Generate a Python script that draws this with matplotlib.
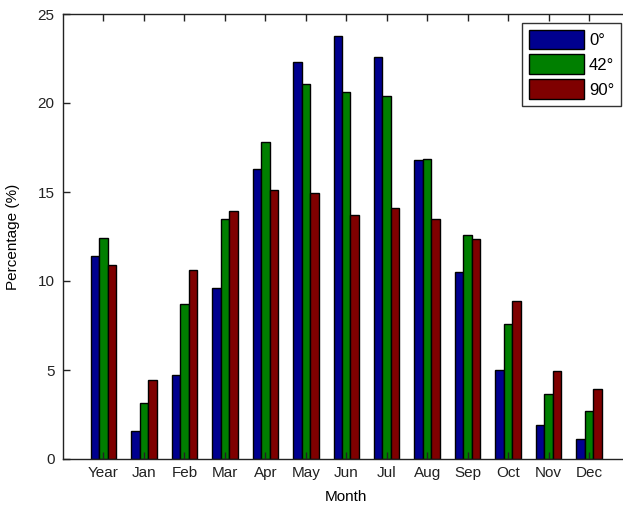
import matplotlib
matplotlib.use("Agg")
import matplotlib.pyplot as plt
import numpy as np

plt.rcParams['font.family'] = ['Liberation Sans', 'DejaVu Sans']

categories = ['Year', 'Jan', 'Feb', 'Mar', 'Apr', 'May', 'Jun',
              'Jul', 'Aug', 'Sep', 'Oct', 'Nov', 'Dec']
tilt_0 = [11.4, 1.6, 4.7, 9.6, 16.3, 22.3, 23.75, 22.6, 16.8, 10.5, 5.0, 1.9, 1.1]
tilt_42 = [12.4, 3.15, 8.7, 13.5, 17.8, 21.05, 20.6, 20.4, 16.85, 12.6, 7.6, 3.65, 2.7]
tilt_90 = [10.9, 4.45, 10.6, 13.95, 15.1, 14.95, 13.7, 14.1, 13.5, 12.35, 8.9, 4.95, 3.95]
series_labels = ['0°', '42°', '90°']
colors = ['#00008F', '#007F00', '#7F0000']
yticks = [0, 5, 10, 15, 20, 25]

fig = plt.figure(figsize=(6.23, 5.08), dpi=100)
# the plot box runs slightly past the right edge of the canvas
ax = fig.add_axes([63 / 623, 49 / 508, 566.5 / 623, 445 / 508])

x = np.arange(1, len(categories) + 1)
w = 0.21
for i, (vals, lab, col) in enumerate(zip([tilt_0, tilt_42, tilt_90], series_labels, colors)):
    ax.bar(x + (i - 1) * w, vals, width=w, color=col, edgecolor='black',
           linewidth=1.0, label=lab)

ax.set_xlim(0, 14)
ax.set_ylim(0, 25)
ax.set_xticks(x)
ax.set_xticklabels(categories)
ax.set_yticks(yticks)
ax.tick_params(direction='in', length=5, width=1, top=True, right=False,
               labelsize=11, colors='#222222')
ax.tick_params(axis='y', pad=6)
ax.tick_params(axis='x', pad=5)
for s in ax.spines.values():
    s.set_linewidth(1.0)
    s.set_color('#222222')
ax.spines['right'].set_visible(False)

ax.set_xlabel('Month', fontsize=11, labelpad=7)
ax.set_ylabel('Percentage (%)', fontsize=11, labelpad=13)

leg = fig.legend(loc='upper right', bbox_to_anchor=(621 / 623, 1 - 23 / 508),
                 fontsize=12, frameon=True, fancybox=False, shadow=False,
                 handlelength=3.3, handleheight=1.45, labelspacing=0.3,
                 handletextpad=0.3, borderpad=0.4, borderaxespad=0)
leg.get_frame().set_edgecolor('black')
leg.get_frame().set_linewidth(1.0)

fig.savefig('out.png', dpi=100)
